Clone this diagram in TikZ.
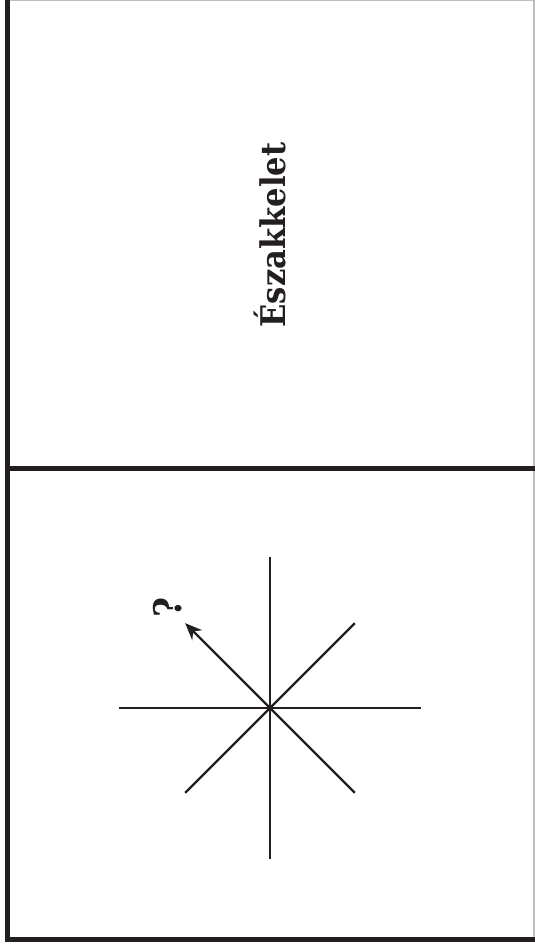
\documentclass[tikz,border=0pt]{standalone}
\usepackage{fontspec}
\setmainfont{DejaVu Serif Condensed}
\usetikzlibrary{arrows.meta,positioning,calc}
\definecolor{inkblk}{RGB}{35,31,32}
\definecolor{rimgray}{RGB}{190,190,190}
\tikzset{
  frameln/.style={line width=5pt, inkblk},
  rimln/.style={line width=1.2pt, rimgray},
  rayln/.style={line width=2.4pt, inkblk, line cap=butt},
  pointer/.style={-{Stealth[length=17pt,width=14pt]}, line width=2.4pt, inkblk},
}
\begin{document}
\begin{tikzpicture}[x=1pt,y=-1pt]
    \useasboundingbox (0,0) rectangle (535,948);
    \fill[white] (0,0) rectangle (535,948);
    % frame
    \draw[rimln] (10,0.6) -- (534,0.6);
    \draw[rimln] (534,0) -- (534,937);
    \draw[frameln] (7.5,0) -- (7.5,942);
    \draw[frameln] (5,939.5) -- (534.6,939.5);
    \draw[frameln] (10,468.5) -- (534.6,468.5);
    % title
    \node[rotate=90, font=\bfseries\fontsize{34}{40}\selectfont, inkblk] (title) at (270,235) {Északkelet};
    % star (y runs downwards, so 225 points up-left)
    \coordinate (ctr) at (270,708);
    \foreach \ang/\len [count=\i] in {0/151, 45/120, 90/151, 135/120, 180/151, 270/151, 315/120} {
      \coordinate (r\i) at ($(ctr)+(\ang:\len)$);
      \draw[rayln] (ctr) -- (r\i);
    }
    \coordinate (tip) at ($(ctr)+(225:120)$);
    \draw[pointer] (ctr) -- (tip);
    \node[rotate=90, font=\bfseries\fontsize{38}{44}\selectfont, inkblk, inner sep=0pt] (ask) at (168,607) {?};
  \end{tikzpicture}
\end{document}
